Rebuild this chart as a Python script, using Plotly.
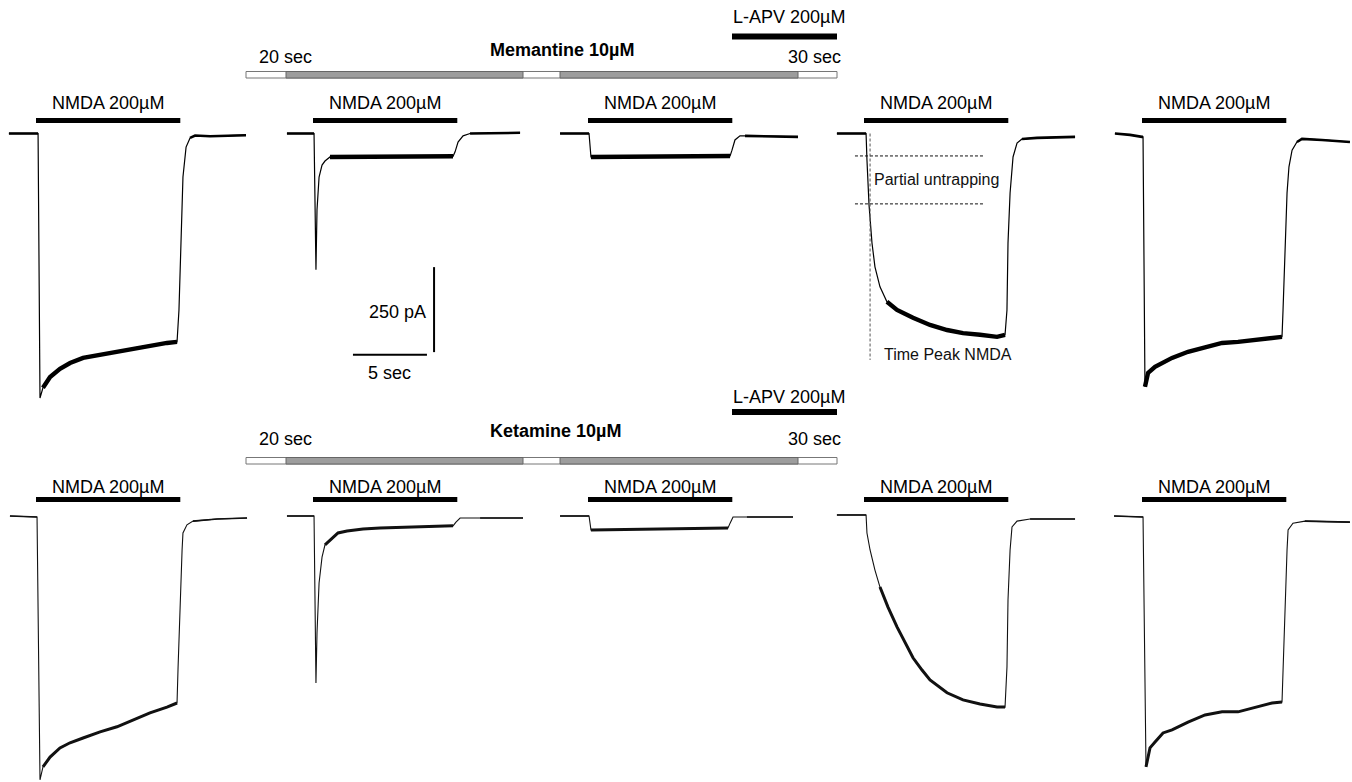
import plotly.graph_objects as go

# ---------------- data (time in s from NMDA onset, current in pA) ----------------
DRUGS = ["Memantine 10µM", "Ketamine 10µM"]
NMDA_LABEL = "NMDA 200µM"
APV_LABEL = "L-APV 200µM"
PROTO_LEFT = "20 sec"
PROTO_RIGHT = "30 sec"
NMDA_ON, NMDA_OFF = 0.0, 9.75
SCALE_T, SCALE_PA = 5, 250
UNTRAP_LEVELS = [-66, -207]          # pA, dashed levels in panel 4 (memantine)
PEAK_TIME = 0.41                      # s, "Time Peak NMDA"

mem1_t = [-1.83, 0.07, 0.14, 0.27, 0.47, 0.95, 1.62, 2.30, 3.18, 4.33, 5.47, 6.56, 7.70, 8.85, 9.53, 9.66, 9.80, 9.93, 10.14, 10.41, 10.75, 11.76, 14.19]
mem1_pA = [0, 0, 0, -778, -748, -716, -692, -675, -660, -651, -642, -631, -622, -616, -613, -519, -275, -128, -40, -13, -6, -8, -5]
mem2_t = [-1.76, 0.0, 0.07, 0.20, 0.27, 0.41, 0.61, 0.81, 1.15, 2.30, 5.88, 9.46, 9.60, 9.80, 10.14, 10.61, 13.99]
mem2_pA = [0, 0, 0, -401, -225, -128, -93, -81, -69, -69, -67, -67, -54, -25, -7, 0, 2]
mem3_t = [-1.89, 0.07, 0.20, 4.8, 9.60, 9.73, 9.93, 10.27, 10.61, 14.19]
mem3_pA = [0, 0, -69, -67, -66, -49, -19, -7, -7, -10]
mem4_t = [-1.83, 0.14, 0.20, 0.34, 0.54, 0.74, 1.08, 1.55, 2.23, 3.31, 4.46, 5.61, 6.69, 7.84, 8.99, 9.53, 9.66, 9.73, 9.87, 10.07, 10.34, 10.68, 11.69, 14.26]
mem4_pA = [0, 0, -78, -210, -322, -392, -451, -495, -519, -542, -563, -578, -587, -592, -598, -592, -519, -322, -175, -69, -28, -16, -13, -10]
mem5_t = [-1.83, -0.81, 0.0, 0.07, 0.20, 0.41, 0.88, 2.03, 3.11, 4.26, 5.41, 6.49, 7.64, 8.79, 9.46, 9.53, 9.66, 9.80, 9.93, 10.14, 10.47, 10.81, 12.16, 14.05]
mem5_pA = [0, -4, -10, -10, -745, -704, -686, -660, -642, -628, -616, -613, -607, -601, -598, -519, -322, -175, -98, -49, -25, -16, -19, -25]

ket1_t = [-1.76, 0.07, 0.27, 0.47, 0.95, 1.62, 2.30, 3.18, 4.33, 5.47, 6.56, 7.70, 8.85, 9.53, 9.60, 9.73, 9.87, 9.93, 10.20, 10.61, 12.24, 14.26]
ket1_pA = [0, -3, -776, -738, -709, -682, -667, -653, -635, -620, -600, -579, -562, -550, -444, -247, -100, -50, -26, -15, -9, -6]
ket2_t = [-1.76, 0.07, 0.20, 0.27, 0.41, 0.61, 0.81, 1.15, 1.69, 2.30, 3.38, 4.53, 6.76, 9.46, 9.66, 9.94, 11.29, 14.19]
ket2_pA = [0, 0, -491, -344, -197, -121, -85, -71, -50, -44, -38, -35, -32, -29, -18, -6, -6, -6]
ket3_t = [-1.89, 0.07, 0.20, 4.8, 9.46, 9.60, 9.80, 10.74, 13.85]
ket3_pA = [0, 0, -41, -38, -35, -21, -3, -3, -3]
ket4_t = [-1.83, 0.14, 0.20, 0.41, 0.74, 1.08, 1.62, 2.23, 2.77, 3.31, 3.92, 4.46, 5.61, 6.69, 7.84, 8.99, 9.53, 9.66, 9.73, 9.87, 10.0, 10.34, 11.22, 14.26]
ket4_pA = [3, 3, -50, -100, -159, -209, -268, -326, -373, -417, -453, -482, -520, -541, -553, -562, -562, -444, -247, -100, -32, -15, -9, -9]
ket5_t = [-1.89, 0.0, 0.07, 0.27, 0.54, 0.88, 1.42, 2.03, 3.11, 4.26, 5.41, 6.49, 7.64, 8.79, 9.46, 9.53, 9.66, 9.80, 9.87, 10.20, 11.01, 14.05]
ket5_pA = [0, -3, -3, -738, -682, -665, -638, -629, -606, -585, -576, -576, -564, -550, -547, -444, -247, -100, -41, -21, -15, -18]

# steady-state (noisy) windows of each trace, s
mem_noisy = [(0.3, 9.53), (0.9, 9.46), (0.2, 9.6), (1.55, 9.53), (0.2, 9.46)]
ket_noisy = [(0.3, 9.53), (0.8, 9.46), (0.2, 9.46), (1.0, 9.53), (0.27, 9.46)]

ROWS = [
    ([mem1_t, mem2_t, mem3_t, mem4_t, mem5_t], [mem1_pA, mem2_pA, mem3_pA, mem4_pA, mem5_pA], mem_noisy),
    ([ket1_t, ket2_t, ket3_t, ket4_t, ket5_t], [ket1_pA, ket2_pA, ket3_pA, ket4_pA, ket5_pA], ket_noisy),
]

# ---------------- layout (pixels) ----------------
W, H = 1352, 782
PX_PER_S = 14.8
PX_PER_PA = 0.34
PANEL_X0 = [36, 313, 588, 864, 1142]
ROW_Y0 = [133.5, 516]
NMDA_BAR_Y = [120.5, 499.5]
NMDA_TXT_Y = [103, 487]
FONT = "Liberation Sans, Arial, sans-serif"

ROW_STYLE = [
    dict(color="#000000", thin=1.2, base=2.6, noisy=4.4),
    dict(color="#111111", thin=1.1, base=1.6, noisy=3.0),
]


def py(px):
    return 1 - px / H


def px_x(px):
    return px / W


fig = go.Figure()
shapes = []
annotations = []
axes = {}

k = 0
for r, (tlist, ilist, noisy) in enumerate(ROWS):
    st = ROW_STYLE[r]
    for c in range(5):
        k += 1
        xa = "x" if k == 1 else f"x{k}"
        ya = "y" if k == 1 else f"y{k}"
        x0 = PANEL_X0[c]
        y0 = ROW_Y0[r]
        xax = dict(range=[-x0 / PX_PER_S, (W - x0) / PX_PER_S], visible=False,
                   fixedrange=True, showgrid=False, zeroline=False)
        yax = dict(range=[-(H - y0) / PX_PER_PA, y0 / PX_PER_PA], visible=False,
                   fixedrange=True, showgrid=False, zeroline=False)
        if k > 1:
            xax.update(overlaying="x", anchor=ya)
            yax.update(overlaying="y", anchor=xa)
        axes["xaxis" if k == 1 else f"xaxis{k}"] = xax
        axes["yaxis" if k == 1 else f"yaxis{k}"] = yax

        t, i = tlist[c], ilist[c]
        # whole trace, thin
        fig.add_trace(go.Scatter(x=t, y=i, xaxis=xa, yaxis=ya, mode="lines",
                                 line=dict(color=st["color"], width=st["thin"]),
                                 hoverinfo="skip"))
        # baselines (slightly noisy -> a bit thicker)
        pre = [(a, b) for a, b in zip(t, i) if a <= 0.15]
        post = [(a, b) for a, b in zip(t, i) if a >= 10.4]
        for seg in (pre, post):
            fig.add_trace(go.Scatter(x=[p[0] for p in seg], y=[p[1] for p in seg],
                                     xaxis=xa, yaxis=ya, mode="lines",
                                     line=dict(color=st["color"], width=st["base"]),
                                     hoverinfo="skip"))
        # noisy steady-state part
        a0, a1 = noisy[c]
        seg = [(a, b) for a, b in zip(t, i) if a0 <= a <= a1]
        fig.add_trace(go.Scatter(x=[p[0] for p in seg], y=[p[1] for p in seg],
                                 xaxis=xa, yaxis=ya, mode="lines",
                                 line=dict(color=st["color"], width=st["noisy"]),
                                 hoverinfo="skip"))

        # NMDA application bar + label
        shapes.append(dict(type="line", xref=xa, yref="paper", x0=NMDA_ON, x1=NMDA_OFF,
                           y0=py(NMDA_BAR_Y[r]), y1=py(NMDA_BAR_Y[r]),
                           line=dict(color="black", width=5)))
        annotations.append(dict(text=NMDA_LABEL, xref=xa, yref="paper",
                                x=(NMDA_ON + NMDA_OFF) / 2, y=py(NMDA_TXT_Y[r]),
                                xanchor="center", yanchor="middle", showarrow=False,
                                font=dict(family=FONT, size=18, color="black")))

# ---------------- scale bars (panel 2 of the top row) ----------------
sb_t0 = 2.70
sb_i0 = -651
fig.add_trace(go.Scatter(x=[sb_t0, sb_t0 + SCALE_T], y=[sb_i0, sb_i0], xaxis="x2", yaxis="y2",
                         mode="lines", line=dict(color="black", width=2), hoverinfo="skip"))
sb_vx = 8.18
sb_vi0 = -643
fig.add_trace(go.Scatter(x=[sb_vx, sb_vx], y=[sb_vi0, sb_vi0 + SCALE_PA], xaxis="x2", yaxis="y2",
                         mode="lines", line=dict(color="black", width=2), hoverinfo="skip"))
annotations.append(dict(text=f"{SCALE_T} sec", xref="x2", yref="y2", x=sb_t0 + SCALE_T / 2,
                        y=sb_i0 - 53, xanchor="center", yanchor="middle", showarrow=False,
                        font=dict(family=FONT, size=18, color="black")))
annotations.append(dict(text=f"{SCALE_PA} pA", xref="x2", yref="y2", x=7.75,
                        y=sb_vi0 + SCALE_PA / 2 - 6, xanchor="right", yanchor="middle", showarrow=False,
                        font=dict(family=FONT, size=18, color="black")))

# ---------------- partial untrapping markers (panel 4, top row) ----------------
for lvl in UNTRAP_LEVELS:
    fig.add_trace(go.Scatter(x=[-0.61, 8.04], y=[lvl, lvl], xaxis="x4", yaxis="y4", mode="lines",
                             line=dict(color="#111111", width=1, dash="3px,2px"), hoverinfo="skip"))
fig.add_trace(go.Scatter(x=[PEAK_TIME, PEAK_TIME], y=[0, -666], xaxis="x4", yaxis="y4", mode="lines",
                         line=dict(color="#555555", width=1, dash="3px,2px"), hoverinfo="skip"))
annotations.append(dict(text="Partial untrapping", xref="x4", yref="y4", x=4.93,
                        y=sum(UNTRAP_LEVELS) / 2, xanchor="center", yanchor="middle", showarrow=False,
                        font=dict(family=FONT, size=16, color="#111111")))
annotations.append(dict(text="Time Peak NMDA", xref="x4", yref="y4", x=1.2,
                        y=-650, xanchor="left", yanchor="middle", showarrow=False,
                        font=dict(family=FONT, size=16, color="#111111")))

# ---------------- protocol headers ----------------
HEAD = [
    dict(apv_txt=17.5, apv_bar=36.5, drug_txt=50, sec_txt=57, bar0=71.5, bar1=78),
    dict(apv_txt=397, apv_bar=412, drug_txt=431, sec_txt=439, bar0=457.5, bar1=464),
]
for r, hd in enumerate(HEAD):
    annotations.append(dict(text=APV_LABEL, xref="paper", yref="paper", x=px_x(731), y=py(hd["apv_txt"]),
                            xanchor="left", yanchor="middle", showarrow=False,
                            font=dict(family=FONT, size=18, color="black")))
    shapes.append(dict(type="rect", xref="paper", yref="paper", x0=px_x(732), x1=px_x(837),
                       y0=py(hd["apv_bar"] - 3), y1=py(hd["apv_bar"] + 3),
                       fillcolor="black", line=dict(width=0)))
    annotations.append(dict(text=f"<b>{DRUGS[r]}</b>", xref="paper", yref="paper", x=px_x(488),
                            y=py(hd["drug_txt"]), xanchor="left", yanchor="middle", showarrow=False,
                            font=dict(family=FONT, size=18, color="black")))
    annotations.append(dict(text=PROTO_LEFT, xref="paper", yref="paper", x=px_x(257), y=py(hd["sec_txt"]),
                            xanchor="left", yanchor="middle", showarrow=False,
                            font=dict(family=FONT, size=18, color="black")))
    annotations.append(dict(text=PROTO_RIGHT, xref="paper", yref="paper", x=px_x(843), y=py(hd["sec_txt"]),
                            xanchor="right", yanchor="middle", showarrow=False,
                            font=dict(family=FONT, size=18, color="black")))
    shapes.append(dict(type="rect", xref="paper", yref="paper", x0=px_x(246), x1=px_x(837),
                       y0=py(hd["bar1"]), y1=py(hd["bar0"]), fillcolor="white",
                       line=dict(color="#777777", width=1)))
    for g0, g1 in [(286, 523), (560, 798)]:
        shapes.append(dict(type="rect", xref="paper", yref="paper", x0=px_x(g0), x1=px_x(g1),
                           y0=py(hd["bar1"]), y1=py(hd["bar0"]), fillcolor="#9d9d9d",
                           line=dict(color="#666666", width=1)))

fig.update_layout(
    width=W, height=H,
    margin=dict(l=0, r=0, t=0, b=0, pad=0),
    paper_bgcolor="white", plot_bgcolor="rgba(0,0,0,0)",
    showlegend=False, hovermode=False,
    shapes=shapes, annotations=annotations,
    **axes,
)

fig.write_html("out.html")
